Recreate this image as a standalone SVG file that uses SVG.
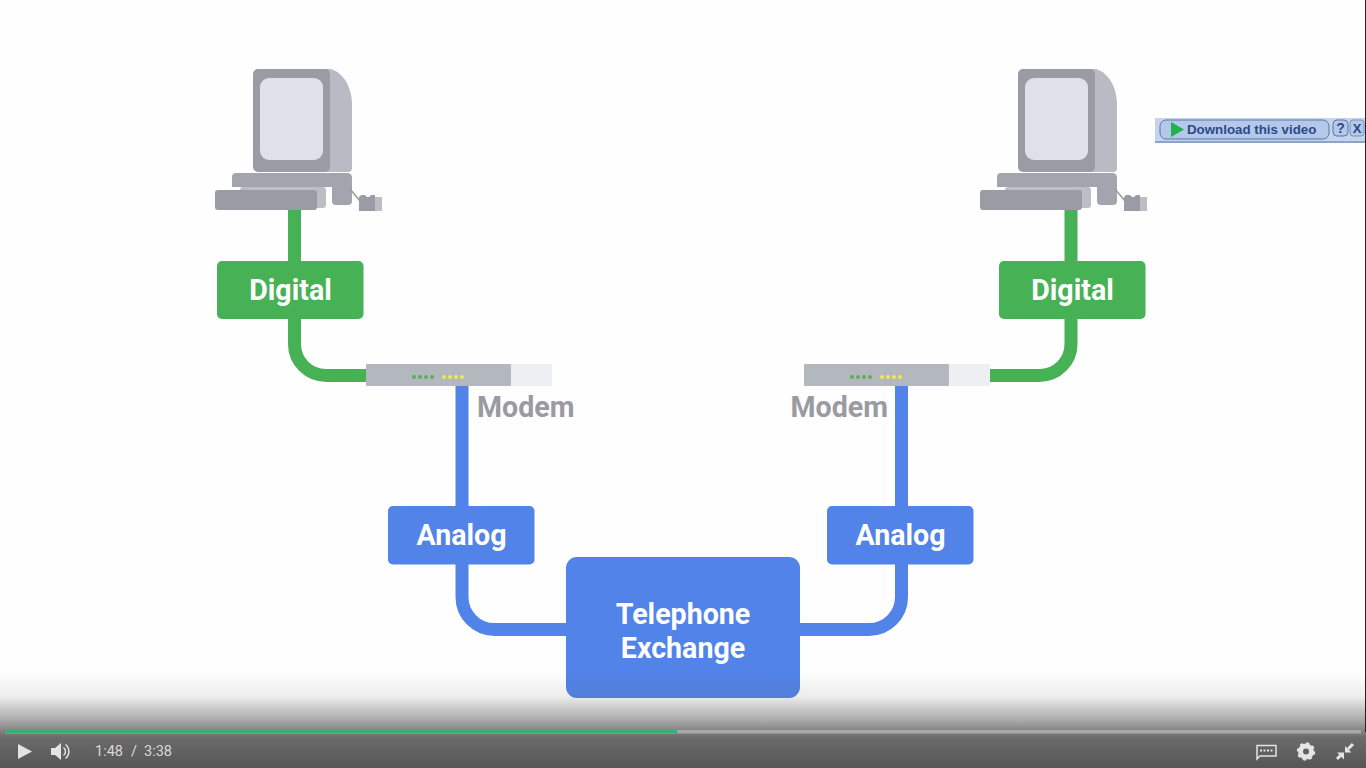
<svg xmlns="http://www.w3.org/2000/svg" width="1366" height="768" viewBox="0 0 1366 768">
<style>
.lbl{font-family:Roboto,"Liberation Sans",sans-serif;font-weight:700;fill:#fff;text-anchor:middle;font-size:28.600px}
.mod{font-family:Roboto,"Liberation Sans",sans-serif;font-weight:700;fill:#9a9ba2;font-size:28.600px}
.g{fill:none;stroke:#47b155;stroke-width:13}
.b{fill:none;stroke:#5183e8;stroke-width:13}
.ctl{font-family:Roboto,"Liberation Sans",sans-serif;fill:#d8d8d8;font-size:14.500px}
.ic{fill:#e4e4e4}
</style>
<defs>
<linearGradient id="shade" x1="0" y1="0" x2="0" y2="1">
<stop offset="0" stop-color="#575757" stop-opacity="0"/>
<stop offset="0.25" stop-color="#575757" stop-opacity="0.1"/>
<stop offset="0.5" stop-color="#575757" stop-opacity="0.5"/>
<stop offset="0.68" stop-color="#575757" stop-opacity="0.88"/>
<stop offset="1" stop-color="#565656"/>
</linearGradient>
<g id="pc">
<path d="M325 69H331C344 73 352 88 352 105V168Q352 172 348 172H325Z" fill="#b9bac3"/>
<rect x="253" y="69" width="77" height="103" rx="5" fill="#9a9ba4"/>
<rect x="260" y="78" width="63" height="82" rx="9" fill="#dfe1e8"/>
<path d="M236 173H347Q352 173 352 178V201Q352 205 348 205H336Q332 205 332 201V187H232V177Q232 173 236 173Z" fill="#a3a4ad"/>
<rect x="240" y="187" width="86" height="21" rx="3" fill="#bdbec5"/>
<rect x="215" y="190" width="102" height="20" rx="3" fill="#9a9ba4"/>
<path d="M350 189L360 201" stroke="#9a9ba4" stroke-width="1.500" fill="none"/>
<path d="M359 197L361 195H365L367 197H369L371 195H375V211H359Z" fill="#9a9ba4"/>
<rect x="375" y="197" width="7" height="14" fill="#bdbec5"/>
</g>
<g id="leds">
<g fill="#5fae55"><circle cx="0" cy="0" r="2"/><circle cx="6" cy="0" r="2"/><circle cx="12" cy="0" r="2"/><circle cx="18" cy="0" r="2"/></g>
<g fill="#ecec3f"><circle cx="30" cy="0" r="2"/><circle cx="36" cy="0" r="2"/><circle cx="42" cy="0" r="2"/><circle cx="48" cy="0" r="2"/></g>
</g>
</defs>
<rect width="1366" height="768" fill="#fefefe"/>
<g id="connectors">
<path class="g" d="M294.500 205V344A31.500 31.500 0 0 0 326 375.500H368"/>
<path class="g" d="M1071 205V344A31.500 31.500 0 0 1 1039.500 375.500H988"/>
<path class="b" d="M462 385V597A32.500 32.500 0 0 0 494.500 629.500H570"/>
<path class="b" d="M901.500 385V597A32.500 32.500 0 0 1 869 629.500H796"/>
</g>
<g id="computer-left"><use href="#pc"/></g>
<g id="computer-right"><use href="#pc" x="765"/></g>
<g id="digital-left"><rect x="217" y="261" width="146.500" height="58" rx="5" fill="#47b155"/><text class="lbl" x="290.500" y="300">Digital</text></g>
<g id="digital-right"><rect x="999" y="261" width="146.500" height="58" rx="5" fill="#47b155"/><text class="lbl" x="1072.500" y="300">Digital</text></g>
<g id="modem-left"><rect x="511" y="364" width="41" height="22" fill="#eeeff3"/><rect x="366" y="364" width="145" height="22" rx="1" fill="#b2b8bd"/><use href="#leds" x="414" y="377"/><text class="mod" x="477" y="417">Modem</text></g>
<g id="modem-right"><rect x="949" y="364" width="41" height="22" fill="#eeeff3"/><rect x="804" y="364" width="145" height="22" rx="1" fill="#b2b8bd"/><use href="#leds" x="852" y="377"/><text class="mod" x="790.500" y="417">Modem</text></g>
<g id="analog-left"><rect x="388" y="506" width="146.500" height="58.500" rx="5" fill="#5183e8"/><text class="lbl" x="461.500" y="545">Analog</text></g>
<g id="analog-right"><rect x="827" y="506" width="146.500" height="58.500" rx="5" fill="#5183e8"/><text class="lbl" x="900.500" y="545">Analog</text></g>
<g id="exchange"><rect x="566" y="557" width="234" height="141" rx="11" fill="#5183e8"/><text class="lbl" x="683" y="623.500">Telephone</text><text class="lbl" x="683" y="657.500">Exchange</text></g>
<rect x="0" y="672" width="1366" height="96" fill="url(#shade)"/>
<rect x="1365" y="0" width="1" height="732" fill="#222"/>
<g id="download-bar">
<rect x="1155" y="118" width="210" height="25" fill="#c5d3ec"/>
<rect x="1155" y="141" width="210" height="2" fill="#8ea3c6"/>
<rect x="1160" y="120" width="169" height="19" rx="6" fill="#b4c8ea" stroke="#5b76a8"/>
<path d="M1171 122L1184 129.500L1171 137Z" fill="#22b24c"/>
<text x="1187" y="134" font-family="Liberation Sans,sans-serif" font-weight="700" font-size="13.300" fill="#2c4a86">Download this video</text>
<rect x="1333" y="120" width="15" height="16" rx="4" fill="#b4c8ea" stroke="#5b76a8"/>
<text x="1340.500" y="133" text-anchor="middle" font-family="Liberation Sans,sans-serif" font-weight="700" font-size="14" fill="#2c4a86">?</text>
<rect x="1350" y="120" width="14" height="16" rx="3" fill="#b4c8ea" stroke="#7f95bd"/>
<text x="1357" y="133" text-anchor="middle" font-family="Liberation Sans,sans-serif" font-weight="700" font-size="13" fill="#2c4a86">X</text>
</g>
<g id="player">
<rect x="5" y="730" width="1356" height="3.500" fill="#a8a8a8"/>
<rect x="5" y="730" width="672" height="3" fill="#3cae6e"/>
<path d="M18 744L32 751.500L18 759Z" class="ic"/>
<path d="M51 748H55L61 743V760L55 755H51Z" class="ic"/>
<path d="M63.500 747.500A5 5 0 0 1 63.500 755.500M65.500 744.500A9 9 0 0 1 65.500 758.500" stroke="#e4e4e4" stroke-width="1.500" fill="none"/>
<text class="ctl" x="95" y="756">1:48</text>
<text class="ctl" x="131" y="756">/</text>
<text class="ctl" x="144" y="756">3:38</text>
<path d="M1257 745.500H1276V756H1260L1257 759Z" fill="none" stroke="#e4e4e4" stroke-width="1.500"/>
<path d="M1260 750.500H1273" stroke="#e4e4e4" stroke-width="2" stroke-dasharray="2 1.500"/>
<circle cx="1306" cy="751.500" r="5.500" fill="none" stroke="#e4e4e4" stroke-width="5"/>
<circle cx="1306" cy="751.500" r="8" fill="none" stroke="#e4e4e4" stroke-width="2.500" stroke-dasharray="3 3.280"/>
<path d="M1353 744L1348 749M1337 759L1342 754" stroke="#e4e4e4" stroke-width="3"/>
<path d="M1345 746V752.500H1351.500ZM1337 752.500H1344V759.500Z" class="ic"/>
</g>
</svg>
